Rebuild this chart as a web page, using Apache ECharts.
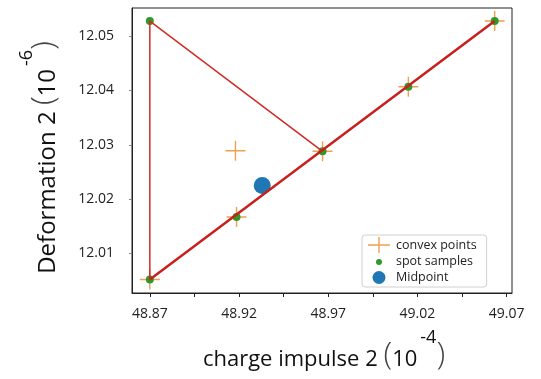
<!DOCTYPE html>
<html>
<head>
<meta charset="utf-8">
<script src="https://cdn.jsdelivr.net/npm/echarts@6/dist/echarts.min.js"></script>
<style>
html,body{margin:0;padding:0;background:#fff;}
#chart{width:541px;height:379px;}
</style>
</head>
<body>
<div id="chart"></div>
<script>
// ---- data ----
const convexPoints = [
  [48.870, 12.0052],
  [48.9186, 12.0167],
  [48.918, 12.0289],
  [48.9668, 12.0288],
  [49.0149, 12.0407],
  [49.0633, 12.0528]
];
const spotSamples = [
  [48.870, 12.0052],
  [48.870, 12.0528],
  [48.9186, 12.0167],
  [48.9668, 12.0288],
  [49.0149, 12.0407],
  [49.0633, 12.0528]
];
const midpoint = [[48.933, 12.0225]];
const hullTriangle = [
  [48.870, 12.0052],
  [48.870, 12.0528],
  [48.9668, 12.0288]
];
const hullDiagonal = [
  [48.870, 12.0052],
  [49.0633, 12.0528]
];
const xLabelValues = [48.87, 48.92, 48.97, 49.02, 49.07];
const xTickValues = [48.87, 48.895, 48.92, 48.945, 48.97, 48.995, 49.02, 49.045, 49.07];
const yLabelValues = [12.01, 12.02, 12.03, 12.04, 12.05];

const FONT = 'Open Sans';
const crossPath = 'path://M0,9.3h20v1.4h-20zM9.3,0h1.4v20h-1.4z';

function titleRich(size) {
  const lh = 38;
  return {
    t: {fontFamily: FONT, fontSize: size, color: '#111', lineHeight: lh, verticalAlign: 'bottom'},
    n: {fontFamily: FONT, fontSize: size, color: '#111', lineHeight: lh, verticalAlign: 'bottom', padding: [0, 3, 0, 0]},
    p: {fontFamily: FONT, fontSize: 32, color: '#444', lineHeight: lh, verticalAlign: 'bottom', fontWeight: 200},
    s: {fontFamily: FONT, fontSize: 18, color: '#111', lineHeight: 42, verticalAlign: 'top'}
  };
}

const chart = echarts.init(document.getElementById('chart'));
chart.setOption({
  animation: false,
  textStyle: {fontFamily: FONT},
  grid: {left: 132, right: 29, top: 8, bottom: 86, show: true, borderColor: '#222', borderWidth: 1,
    outerBoundsMode: 'none', containLabel: false},
  legend: {
    orient: 'vertical',
    left: 362, top: 235,
    padding: [2, 10, 2, 6],
    itemWidth: 22, itemHeight: 16, itemGap: 0,
    backgroundColor: '#fff', borderColor: '#d0d0d0', borderWidth: 1, borderRadius: 3,
    textStyle: {fontFamily: FONT, fontSize: 12.5, color: '#222', padding: [0, 0, 0, 1]},
    data: [
      {name: 'convex points', icon: 'path://M0,0M22,16M0,7.3h22v1.4h-22zM10.3,0h1.4v16h-1.4z'},
      {name: 'spot samples', icon: 'path://M0,0M22,16M8,9a3,3 0 1,0 6,0a3,3 0 1,0 -6,0z'},
      {name: 'Midpoint', icon: 'path://M0,0M22,16M4.5,8.5a6.5,6.5 0 1,0 13,0a6.5,6.5 0 1,0 -13,0z'}
    ]
  },
  xAxis: {
    type: 'value', min: 48.86, max: 49.073,
    name: '{t|charge impulse 2 }{p|(}{n|10}{s|-4}{p|)}',
    nameLocation: 'middle', nameGap: 36,
    nameTextStyle: {rich: titleRich(22), padding: [0, 0, 0, 4]},
    axisLine: {show: true, lineStyle: {color: '#222', width: 1}},
    axisTick: {show: true, length: 4, customValues: xTickValues, lineStyle: {color: '#222'}},
    axisLabel: {customValues: xLabelValues, margin: 14, fontSize: 14, color: '#222',
      formatter: v => v.toFixed(2)},
    splitLine: {show: false}
  },
  yAxis: {
    type: 'value', min: 12.0027, max: 12.0552,
    name: '{t|Deformation 2 }{p|(}{n|10}{s|-6}{p|)}',
    nameLocation: 'middle', nameGap: 72, nameRotate: 90,
    nameTextStyle: {rich: titleRich(24), padding: [0, 14, 0, 0]},
    axisLine: {show: true, lineStyle: {color: '#222', width: 1}},
    axisTick: {show: true, length: 3, customValues: yLabelValues, lineStyle: {color: '#888'}},
    axisLabel: {customValues: yLabelValues, margin: 18, fontSize: 14, color: '#222',
      formatter: v => v.toFixed(2)},
    splitLine: {show: false}
  },
  series: [
    {
      name: 'convex points', type: 'scatter', data: convexPoints,
      symbol: crossPath, symbolSize: 20, z: 2,
      itemStyle: {color: '#f0a050', opacity: 1}
    },
    {
      name: 'spot samples', type: 'scatter', data: spotSamples,
      symbol: 'circle', symbolSize: 8, z: 3,
      itemStyle: {color: '#2f9a2a', opacity: 1}
    },
    {
      name: 'Midpoint', type: 'scatter', data: midpoint,
      symbol: 'circle', symbolSize: 17, z: 3,
      itemStyle: {color: '#1f77b4', opacity: 1}
    },
    {
      type: 'line', data: hullTriangle, symbol: 'none', z: 4,
      lineStyle: {color: '#cf2b27', width: 1.5}
    },
    {
      type: 'line', data: hullDiagonal, symbol: 'none', z: 4,
      lineStyle: {color: '#c8201c', width: 2.5}
    }
  ]
});
</script>
</body>
</html>
